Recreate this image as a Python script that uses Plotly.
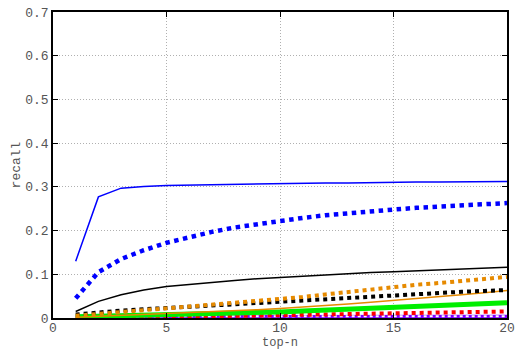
import plotly.graph_objects as go

top_n = list(range(1, 21))

blue_solid = [0.130, 0.277, 0.297, 0.301, 0.303, 0.304, 0.305, 0.306, 0.307, 0.308,
              0.308, 0.309, 0.309, 0.310, 0.310, 0.311, 0.311, 0.311, 0.312, 0.312]
blue_dot = [0.045, 0.105, 0.135, 0.155, 0.172, 0.185, 0.197, 0.207, 0.215, 0.222,
            0.229, 0.235, 0.240, 0.244, 0.248, 0.252, 0.255, 0.258, 0.261, 0.263]
black_solid = [0.015, 0.038, 0.053, 0.064, 0.072, 0.077, 0.082, 0.086, 0.090, 0.093,
               0.096, 0.099, 0.101, 0.104, 0.106, 0.108, 0.110, 0.112, 0.114, 0.116]
orange_dot = [0.005, 0.010, 0.015, 0.018, 0.022, 0.026, 0.030, 0.034, 0.038, 0.043,
              0.048, 0.054, 0.060, 0.066, 0.072, 0.076, 0.080, 0.085, 0.090, 0.094]
black_dot = [0.008, 0.013, 0.017, 0.020, 0.023, 0.026, 0.029, 0.032, 0.035, 0.038,
             0.041, 0.044, 0.047, 0.050, 0.053, 0.055, 0.058, 0.060, 0.062, 0.064]
orange_solid = [0.002, 0.004, 0.006, 0.008, 0.010, 0.012, 0.014, 0.016, 0.019, 0.022,
                0.025, 0.028, 0.032, 0.036, 0.040, 0.044, 0.048, 0.053, 0.058, 0.063]
green_solid = [0.003, 0.004, 0.005, 0.006, 0.008, 0.009, 0.010, 0.011, 0.012, 0.014,
               0.016, 0.018, 0.020, 0.022, 0.024, 0.026, 0.028, 0.031, 0.033, 0.035]
red_dot = [0.000, 0.000, 0.001, 0.001, 0.002, 0.003, 0.004, 0.005, 0.006, 0.007,
           0.008, 0.009, 0.010, 0.011, 0.012, 0.013, 0.013, 0.014, 0.014, 0.015]
purple_solid = [0.002, 0.002, 0.002, 0.002, 0.002, 0.002, 0.002, 0.003, 0.003, 0.003,
                0.003, 0.003, 0.003, 0.003, 0.003, 0.003, 0.003, 0.003, 0.003, 0.003]
white_dot = [0.004, 0.004, 0.004, 0.004, 0.004, 0.004, 0.004, 0.004, 0.004, 0.004,
             0.004, 0.004, 0.004, 0.004, 0.004, 0.004, 0.004, 0.004, 0.004, 0.004]

x_ticks = [0, 5, 10, 15, 20]
y_ticks = [0, 0.1, 0.2, 0.3, 0.4, 0.5, 0.6, 0.7]

series = [
    (purple_solid, "#7f00ff", 4, "solid"),
    (white_dot, "#ffffff", 2, "dot"),
    (red_dot, "#ff0000", 4, "dot"),
    (green_solid, "#00ee00", 5, "solid"),
    (orange_solid, "#e68a00", 1.5, "solid"),
    (black_dot, "#000000", 4, "dot"),
    (orange_dot, "#e68a00", 4, "dot"),
    (black_solid, "#000000", 1.5, "solid"),
    (blue_dot, "#0000ff", 4.5, "dot"),
    (blue_solid, "#0000ff", 1.5, "solid"),
]

fig = go.Figure()
for ys, col, w, d in series:
    fig.add_trace(go.Scatter(x=top_n, y=ys, mode="lines",
                             line=dict(color=col, width=w, dash=d),
                             showlegend=False, hoverinfo="skip", cliponaxis=True))

font = dict(family="Courier New, Liberation Mono, monospace", size=13, color="#555555")
xfont = dict(family="Courier New, Liberation Mono, monospace", size=12, color="#555555")
axis_common = dict(showline=True, linecolor="black", linewidth=1.5, mirror="allticks",
                   ticks="inside", ticklen=5, tickcolor="black", automargin=False,
                   showgrid=True, gridcolor="#b0b0b0", griddash="1px,2px", gridwidth=1,
                   zeroline=False)

fig.update_layout(
    width=515, height=351,
    margin=dict(l=53, r=8, t=12, b=33),
    plot_bgcolor="white", paper_bgcolor="white",
    xaxis=dict(range=[0, 20], tickvals=x_ticks, ticktext=[str(v) for v in x_ticks],
               tickfont=font, ticklabelstandoff=-3, **axis_common),
    yaxis=dict(range=[0, 0.7], tickvals=y_ticks, ticktext=[f"{v:.1f}" if v else "0" for v in y_ticks],
               tickfont=font, title=dict(text="recall", font=font, standoff=2), **axis_common),
    annotations=[dict(text="top-n", xref="paper", yref="paper", x=0.5, y=-33 / 306,
                      xanchor="center", yanchor="bottom", showarrow=False,
                      font=xfont, yshift=-1)],
)

fig.write_html("out.html")
